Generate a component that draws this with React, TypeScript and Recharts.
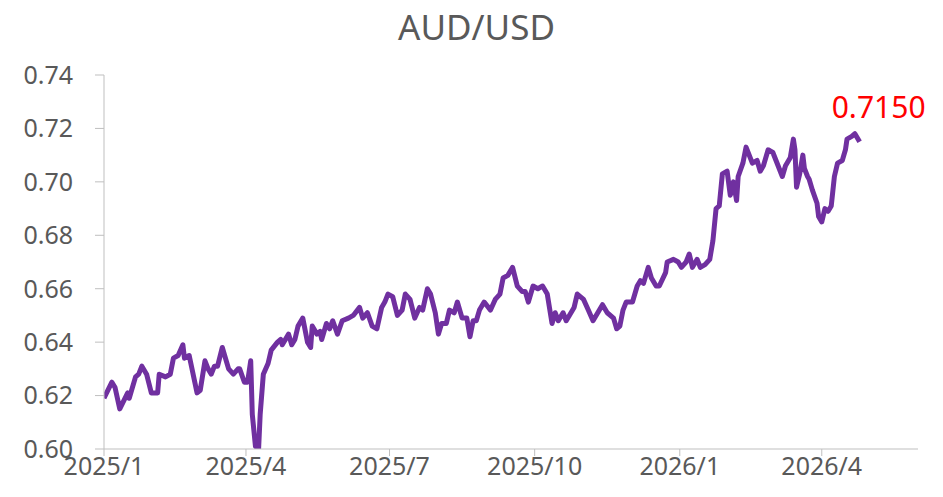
import React from "react";
import { LineChart, Line, XAxis, YAxis } from "recharts";

const days = [0,5,7,10,15,16,20,22,24,27,30,34,35,39,42,44,47,50,51,54,59,61,64,66,68,70,72,75,79,82,85,86,89,91,93,94,96,98,99,101,104,106,110,112,113,117,119,121,123,126,129,131,132,135,137,138,141,143,145,148,151,155,158,162,164,167,170,173,176,178,180,183,186,189,191,194,197,200,202,205,207,210,212,214,217,219,222,224,227,230,232,234,236,238,241,245,248,251,253,256,259,262,265,267,269,272,275,278,281,284,286,288,291,293,295,298,300,304,307,310,313,316,319,323,325,327,329,331,335,338,340,342,345,347,350,352,356,357,361,364,366,369,371,373,376,378,381,384,386,388,390,392,395,397,399,401,402,405,407,411,414,416,418,421,424,426,430,432,435,437,438,439,441,443,444,446,447,449,452,453,455,457,459,461,463,465,468,470,471,474,476,479];

const audusd = [0.619,0.625,0.623,0.615,0.621,0.619,0.627,0.628,0.631,0.628,0.621,0.621,0.628,0.627,0.628,0.634,0.635,0.639,0.634,0.635,0.621,0.622,0.633,0.630,0.628,0.631,0.631,0.638,0.630,0.628,0.630,0.630,0.625,0.625,0.633,0.613,0.601,0.600,0.613,0.628,0.632,0.637,0.640,0.641,0.639,0.643,0.639,0.641,0.646,0.649,0.640,0.638,0.646,0.643,0.644,0.641,0.647,0.645,0.648,0.643,0.648,0.649,0.650,0.653,0.649,0.651,0.646,0.645,0.653,0.655,0.658,0.657,0.650,0.652,0.658,0.656,0.649,0.653,0.652,0.660,0.658,0.651,0.643,0.647,0.647,0.652,0.651,0.655,0.649,0.649,0.642,0.648,0.648,0.652,0.655,0.652,0.656,0.658,0.664,0.665,0.668,0.661,0.659,0.659,0.655,0.661,0.660,0.661,0.658,0.647,0.651,0.648,0.651,0.648,0.650,0.653,0.658,0.656,0.652,0.648,0.651,0.654,0.651,0.649,0.645,0.646,0.652,0.655,0.655,0.661,0.663,0.662,0.668,0.664,0.661,0.661,0.666,0.670,0.671,0.670,0.668,0.670,0.673,0.668,0.671,0.668,0.669,0.671,0.678,0.690,0.691,0.703,0.704,0.695,0.700,0.693,0.702,0.707,0.713,0.707,0.708,0.704,0.706,0.712,0.711,0.708,0.702,0.706,0.709,0.716,0.712,0.698,0.703,0.710,0.705,0.702,0.701,0.697,0.692,0.687,0.685,0.690,0.689,0.691,0.702,0.707,0.708,0.712,0.716,0.717,0.718,0.715];

const tickDays = [0, 90, 181, 273, 365, 455];
const tickLabels = ["2025/1", "2025/4", "2025/7", "2025/10", "2026/1", "2026/4"];
const yTicks = [0.6, 0.62, 0.64, 0.66, 0.68, 0.7, 0.72, 0.74];
const lastLabel = "0.7150";
const title = "AUD/USD";

const data = days.map((d, i) => ({ day: d, v: audusd[i] }));

const FONT = "'Noto Sans', 'Open Sans', sans-serif";
const GREY = "#595959";

const LastLabel = (props: any) => {
  const { x, y, index } = props;
  if (index !== data.length - 1) return null;
  return (
    <text x={x + 19} y={y - 24} textAnchor="middle" fill="#FF0000" fontSize={30} fontFamily={FONT}>
      {lastLabel}
    </text>
  );
};

export default function App() {
  return (
    <div style={{ position: "absolute", left: 0, top: 0, width: 943, height: 497, background: "#fff" }}>
      <div
        style={{
          position: "absolute",
          left: 0,
          top: 4,
          width: 953,
          textAlign: "center",
          fontFamily: FONT,
          fontSize: 35,
          color: GREY,
          lineHeight: "46px",
        }}
      >
        {title}
      </div>
      <LineChart width={943} height={497} data={data} margin={{ top: 75, right: 25, bottom: 18, left: 0 }}>
        <XAxis
          dataKey="day"
          type="number"
          domain={[0, 516]}
          ticks={tickDays}
          tickFormatter={(v: number) => tickLabels[tickDays.indexOf(v)] ?? ""}
          interval={0}
          height={30}
          stroke="#bfbfbf"
          tickSize={7}
          tickMargin={1}
          tick={{ fill: GREY, fontSize: 25, fontFamily: FONT }}
          allowDataOverflow
        />
        <YAxis
          type="number"
          domain={[0.6, 0.74]}
          ticks={yTicks}
          interval={0}
          width={104}
          stroke="#bfbfbf"
          tickSize={9}
          tickMargin={22}
          tickFormatter={(v: number) => v.toFixed(2)}
          tick={{ fill: GREY, fontSize: 25, fontFamily: FONT }}
          allowDataOverflow
        />
        <Line
          type="linear"
          dataKey="v"
          stroke="#7030A0"
          strokeWidth={5}
          strokeLinejoin="round"
          dot={false}
          isAnimationActive={false}
          label={<LastLabel />}
        />
      </LineChart>
    </div>
  );
}
